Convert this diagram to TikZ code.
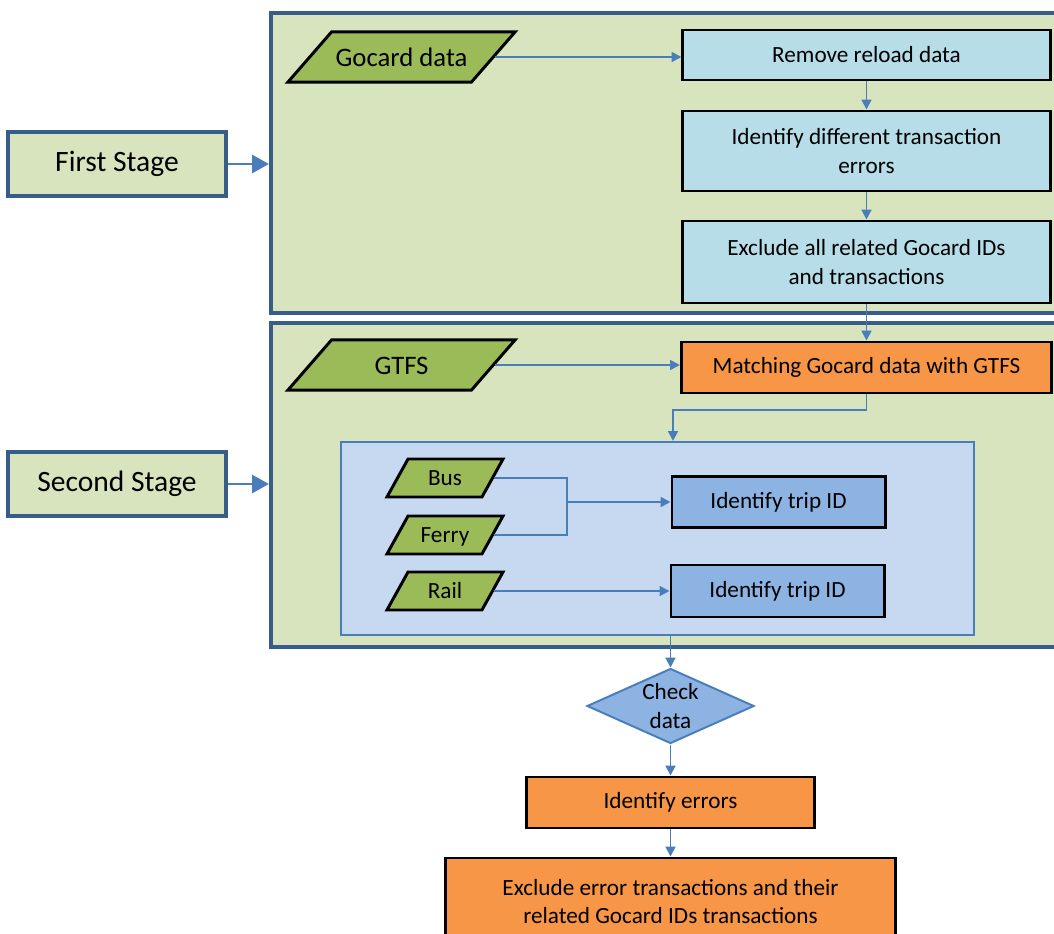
\documentclass[tikz,border=0pt]{standalone}
\usepackage{fontspec}
\setmainfont{Carlito}
\usetikzlibrary{shapes.geometric,arrows.meta}

\definecolor{frameblue}{RGB}{56,93,138}
\definecolor{stagegreen}{RGB}{215,228,189}
\definecolor{olivefill}{RGB}{155,187,89}
\definecolor{aquafill}{RGB}{183,222,232}
\definecolor{orangefill}{RGB}{247,150,70}
\definecolor{panelblue}{RGB}{198,217,241}
\definecolor{panelline}{RGB}{74,126,187}
\definecolor{tripblue}{RGB}{141,179,226}
\definecolor{flowblue}{RGB}{74,126,187}

\begin{document}
\begin{tikzpicture}[x=0.025cm, y=-0.025cm, line join=miter,
	txt/.style={font=\fontsize{16.5}{20.5}\selectfont, align=center, inner sep=0pt},
	stagebox/.style={draw=frameblue, line width=2.8pt, fill=stagegreen, minimum width=5.45cm, minimum height=1.6cm, font=\fontsize{21}{25}\selectfont},
	stageframe/.style={draw=frameblue, line width=2.8pt, fill=stagegreen, minimum width=19.725cm},
	bigdata/.style={trapezium, trapezium left angle=49, trapezium right angle=131, trapezium stretches body, draw=black, line width=2.1pt, fill=olivefill, minimum width=5.675cm, text height=15pt, text depth=2pt, inner xsep=0pt, inner ysep=9.3pt, font=\fontsize{19}{23}\selectfont},
	smalldata/.style={trapezium, trapezium left angle=61, trapezium right angle=119, trapezium stretches body, draw=black, line width=2.1pt, fill=olivefill, minimum width=2.9cm, font=\fontsize{16.5}{20.5}\selectfont, text height=12.5pt, text depth=2.5pt, inner xsep=0pt, inner ysep=6pt},
	procbox/.style={draw=black, line width=2.1pt, txt},
	aquabox/.style={procbox, fill=aquafill, minimum width=9.175cm},
	flow/.style={draw=flowblue, line width=1.4pt, -{Triangle[length=7pt, width=7pt]}},
	link/.style={draw=flowblue, line width=1.4pt},
	bigflow/.style={draw=flowblue, line width=1.4pt, -{Triangle[length=12pt, width=13pt]}}]
			\useasboundingbox (0,0) rectangle (1054,934);
			\clip (0,0) rectangle (1054,934);
			
			% Stage frames (cut off at the right edge)
			\node[stageframe, minimum height=7.5cm] (stageone) at (665.5,163) {};
			\node[stageframe, minimum height=8.1cm] (stagetwo) at (665.5,485) {};
			
			% Stage labels on the left
			\node[stagebox] (first) at (117,164) {First Stage};
			\node[stagebox] (second) at (117,484) {Second Stage};
			\draw[bigflow] (first.east) -- (first.east -| stageone.west);
			\draw[bigflow] (second.east) -- (second.east -| stagetwo.west);
			
			% First stage: cleaning the Gocard data
			\node[bigdata] (gocard) at (401.5,57) {Gocard data};
			\node[aquabox, minimum height=1.25cm] (remove) at (866.5,55) {Remove reload data};
			\node[aquabox, minimum height=2cm] (ident) at (866.5,151) {Identify different transaction\\errors};
			\node[aquabox, minimum height=2.05cm] (excl) at (866.5,262) {Exclude all related Gocard IDs\\and transactions};
			
			\draw[flow] (gocard.east) -- (gocard.east -| remove.west);
			\draw[flow] (remove) -- (ident);
			\draw[flow] (ident) -- (excl);
			
			% Second stage: matching with GTFS
			\node[bigdata] (gtfs) at (401.5,365) {GTFS};
			\node[procbox, fill=orangefill, minimum width=9.25cm, minimum height=1.275cm] (match) at (866.5,367.5) {Matching Gocard data with GTFS};
			\node[draw=panelline, line width=1.4pt, fill=panelblue, minimum width=15.825cm, minimum height=4.825cm] (inner) at (657.5,538.5) {};
			
			\draw[flow] (excl) -- (match);
			\draw[flow] (gtfs.east) -- (gtfs.east -| match.west);
			\coordinate (bend) at (673,410);
			\draw[flow] (match.south) |- (bend) -- (bend |- inner.north);
			
			% Modes inside the blue panel
			\node[smalldata] (bus) at (445,478) {Bus};
			\node[smalldata] (ferry) at (445,535) {Ferry};
			\node[smalldata] (rail) at (445,591) {Rail};
			\node[procbox, fill=tripblue, minimum width=5.325cm, minimum height=1.275cm] (tripa) at (778.5,502) {Identify trip ID};
			\node[procbox, fill=tripblue, minimum width=5.325cm, minimum height=1.3cm] (tripb) at (777.5,591) {Identify trip ID};
			
			\coordinate (join) at (567,502);
			\draw[link] (bus.east) -| (join);
			\draw[link] (ferry.east) -| (join);
			\draw[flow] (join) -- (tripa.west);
			\draw[flow] (rail.east) -- (rail.east -| tripb.west);
			
			% Final checks below the frames
			\node[diamond, aspect=2.2, draw=panelline, line width=1.4pt, fill=tripblue, minimum width=4.175cm, minimum height=1.875cm, txt] (check) at (670.5,706) {Check\\data};
			\node[procbox, fill=orangefill, minimum width=7.175cm, minimum height=1.275cm] (errs) at (670.5,802.5) {Identify errors};
			\node[procbox, fill=orangefill, minimum width=11.225cm, minimum height=2.175cm] (exclerr) at (670.5,901.5) {Exclude error transactions and their\\related Gocard IDs transactions};
			
			\draw[flow] (inner.south -| check.north) -- (check.north);
			\draw[flow] (check) -- (errs);
			\draw[flow] (errs) -- (exclerr);
			
		\end{tikzpicture}
\end{document}
